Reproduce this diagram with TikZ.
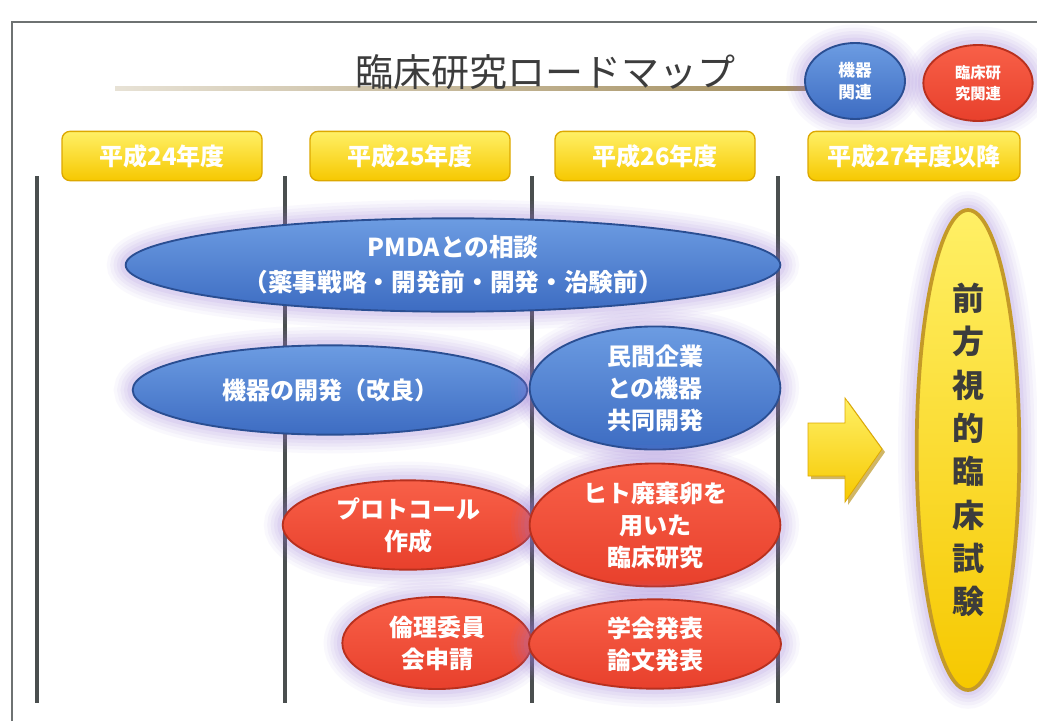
\documentclass[tikz,border=0pt]{standalone}
\usepackage{fontspec}
\setmainfont{Noto Sans CJK JP}
\usetikzlibrary{shapes.geometric}
\definecolor{glowc}{HTML}{9A78D8}
\definecolor{bluetop}{HTML}{6C9CE2}
\definecolor{bluebot}{HTML}{3D6CC2}
\definecolor{blueedge}{HTML}{2A4E92}
\definecolor{redtop}{HTML}{F86048}
\definecolor{redbot}{HTML}{E8402C}
\definecolor{rededge}{HTML}{B8301E}
\definecolor{yeltop}{HTML}{FFF066}
\definecolor{yelbot}{HTML}{F6C800}
\definecolor{yeledge}{HTML}{DDA800}
\definecolor{goldedge}{HTML}{C49A28}
\definecolor{titlec}{HTML}{3C3C3C}
\definecolor{linec}{HTML}{4A4F4F}
\definecolor{olive}{HTML}{A08A58}
\tikzset{
  glow/.style={
    preaction={draw=glowc, line width=28pt, draw opacity=0.05},
    preaction={draw=glowc, line width=23pt, draw opacity=0.06},
    preaction={draw=glowc, line width=18pt, draw opacity=0.07},
    preaction={draw=glowc, line width=13pt, draw opacity=0.08},
    preaction={draw=glowc, line width=8pt, draw opacity=0.10}},
  oval/.style={ellipse, inner sep=0pt, align=center, text=white, font=\bfseries\fontsize{18pt}{24pt}\selectfont, line width=1.4pt, glow},
  blueoval/.style={oval, draw=blueedge, top color=bluetop, bottom color=bluebot},
  redoval/.style={oval, draw=rededge, top color=redtop, bottom color=redbot},
  yearbox/.style={rectangle, rounded corners=6pt, minimum width=150pt, minimum height=37pt, draw=yeledge, line width=1pt, top color=yeltop, bottom color=yelbot, text=white, font=\bfseries\fontsize{18pt}{20pt}\selectfont},
  colline/.style={draw=linec, line width=3pt},
  frameline/.style={draw=linec!80, line width=1pt}
}
\begin{document}
\begin{tikzpicture}[x=0.75pt, y=-0.75pt]
\useasboundingbox (0,0) rectangle (1037,721);
\fill[white] (0,0) rectangle (1037,721);
% frame
\coordinate (f1) at (12,721);
\coordinate (f2) at (12,22);
\coordinate (f3) at (1037,22);
\draw[frameline] (f1) -- (f2) -- (f3);
% title line
\shade[left color=olive!25, right color=olive] (115,86) rectangle (830,90);
\node[text=titlec, font=\fontsize{28.5pt}{30pt}\selectfont] (title) at (545,72) {臨床研究ロードマップ};
% legend
\node[blueoval, minimum width=75pt, minimum height=57pt, font=\bfseries\fontsize{12.5pt}{16pt}\selectfont] (lblue) at (855,81) {機器\\関連};
\node[redoval, minimum width=82pt, minimum height=57pt, font=\bfseries\fontsize{11.5pt}{16pt}\selectfont] (lred) at (978,83) {臨床研\\究関連};
% year boxes
\node[yearbox] (y24) at (162,156) {平成24年度};
\node[yearbox] (y25) at (410,156) {平成25年度};
\node[yearbox] (y26) at (655,156) {平成26年度};
\node[yearbox, minimum width=159pt] (y27) at (914,156) {平成27年度以降};
% column lines
\foreach \x/\n in {37/a,285/b,532/c,778/d}{
  \coordinate (\n top) at (\x,176);
  \coordinate (\n bot) at (\x,703);
  \draw[colline] (\n top) -- (\n bot);
}
% blue ovals
\node[blueoval, minimum width=491pt, minimum height=70pt, font=\bfseries\fontsize{18.5pt}{26pt}\selectfont] (pmda) at (453,265) {PMDAとの相談\\（薬事戦略・開発前・開発・治験前）};
\node[blueoval, minimum width=296pt, minimum height=67pt] (kiki) at (330,390) {機器の開発（改良）};
\node[blueoval, minimum width=188pt, minimum height=86pt] (minkan) at (655,388) {民間企業\\との機器\\共同開発};
% red ovals
\node[redoval, minimum width=188pt, minimum height=67pt] (proto) at (408,525) {プロトコール\\作成};
\node[redoval, minimum width=188pt, minimum height=83pt] (hito) at (655,525) {ヒト廃棄卵を\\用いた\\臨床研究};
\node[redoval, minimum width=142pt, minimum height=69pt] (rinri) at (437,643) {倫理委員\\会申請};
\node[redoval, minimum width=189pt, minimum height=67pt] (gakkai) at (655,644) {学会発表\\論文発表};
% arrow
\fill[yeledge!80!black, opacity=0.6] (811,426) -- (848,426) -- (848,401) -- (885,452) -- (848,505) -- (848,479) -- (811,479) -- cycle;
\draw[yeledge, line width=0.6pt, top color=yeltop, bottom color=yelbot] (808,423) -- (845,423) -- (845,398) -- (882,449) -- (845,502) -- (845,476) -- (808,476) -- cycle;
\coordinate (arr) at (845,449);
% final tall oval
\node[ellipse, inner sep=0pt, minimum width=77pt, minimum height=360pt, draw=goldedge, line width=2.8pt, top color=yeltop, bottom color=yelbot, glow, text=titlec, font=\bfseries\fontsize{24pt}{32.5pt}\selectfont, align=center] (trial) at (968,450) {前\\方\\視\\的\\臨\\床\\試\\験};
\end{tikzpicture}
\end{document}
